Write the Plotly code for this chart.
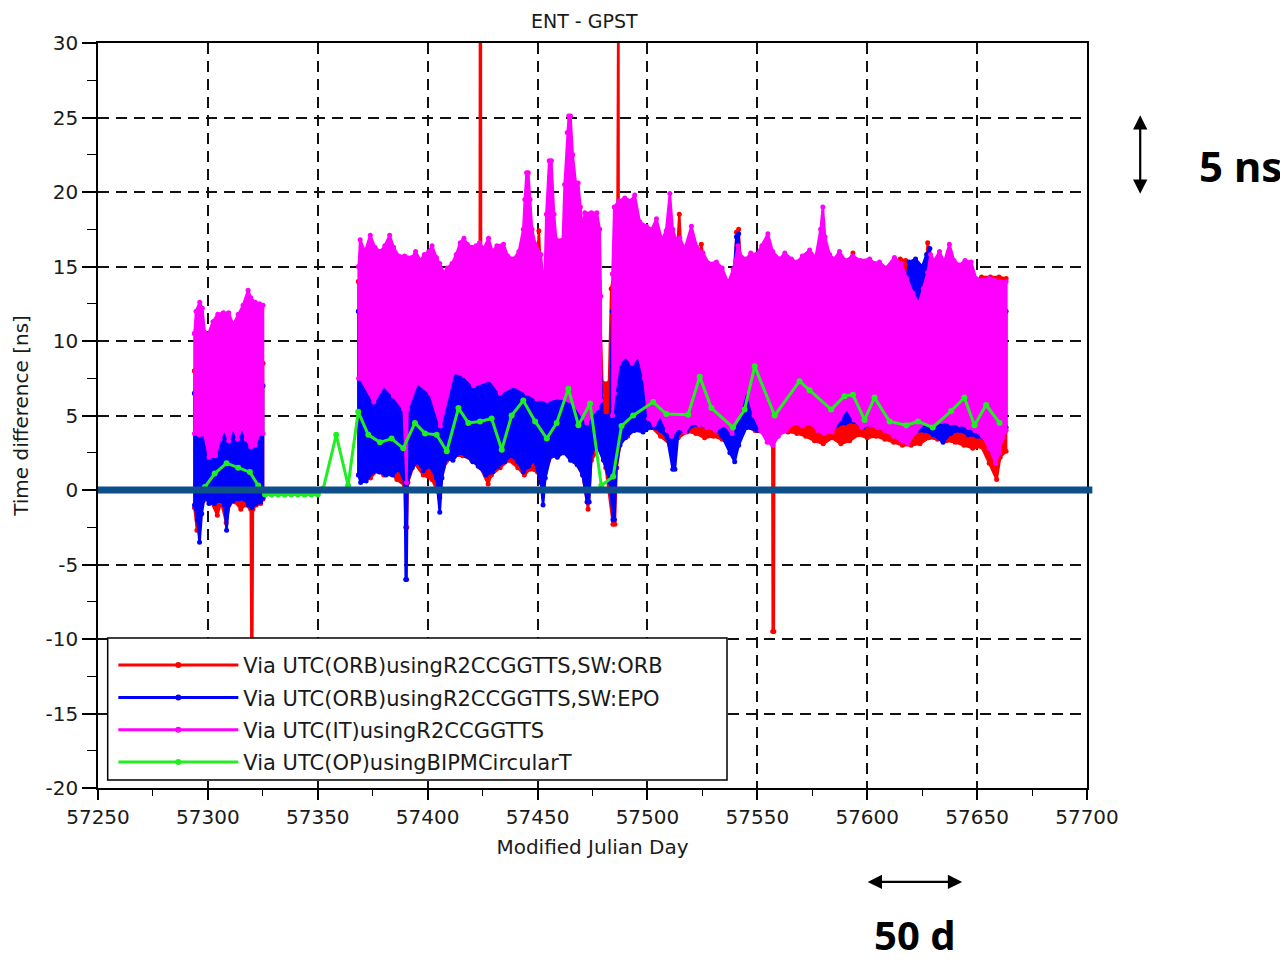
import plotly.graph_objects as go

# ---------------- data ----------------
SERIES_NAMES = [
    "Via UTC(ORB)usingR2CCGGTTS,SW:ORB",
    "Via UTC(ORB)usingR2CCGGTTS,SW:EPO",
    "Via UTC(IT)usingR2CCGGTTS",
    "Via UTC(OP)usingBIPMCircularT",
]
COLORS = ["#ff0000", "#0000ff", "#ff00ff", "#20ee20"]

# envelopes [MJD, ns] of the dense clouds: upper and lower edges per data segment
RED_A_UP = [[57293.9, 8.0], [57310.0, 8.5], [57325.1, 8.5]]
RED_A_LO = [[57293.9, -1.2], [57295.0, -2.7], [57296.5, -1.5], [57298.0, -0.7], [57301.0, -0.6],
            [57304.3, -1.7], [57306.0, -0.8], [57308.3, -2.2], [57310.0, -0.9], [57312.5, -0.8],
            [57315.0, -1.3], [57317.0, -1.0], [57319.5, -1.3], [57319.8, -11.0], [57320.2, -11.0],
            [57320.5, -1.3], [57322.0, -1.0], [57324.0, -0.9], [57325.1, -0.6]]
RED_B_UP = [[57368.5, 14.0], [57423.7, 14.0], [57423.8, 35.0], [57424.2, 35.0], [57424.3, 14.0],
            [57440.0, 14.0], [57450.0, 15.0], [57450.6, 17.4], [57451.3, 15.0], [57452.0, 13.5],
            [57478.0, 14.0], [57479.5, 7.2], [57482.5, 7.2], [57483.5, 13.5], [57486.3, 16.0],
            [57486.4, 35.0], [57486.8, 35.0], [57486.9, 16.0], [57513.5, 16.0], [57514.5, 18.5],
            [57515.5, 15.5], [57518.0, 15.0], [57523.5, 15.0], [57524.5, 16.5], [57526.0, 15.0],
            [57530.0, 14.5], [57534.0, 14.0], [57537.0, 13.2], [57539.5, 14.0], [57540.5, 17.3],
            [57541.5, 17.5], [57542.5, 15.0], [57550.0, 15.0], [57560.0, 15.0], [57570.0, 15.0],
            [57580.0, 15.0], [57590.0, 15.0], [57593.5, 15.9], [57595.0, 15.0], [57605.0, 14.8],
            [57612.0, 15.0], [57615.0, 15.5], [57617.5, 15.4], [57620.0, 13.0], [57626.0, 13.0],
            [57627.5, 16.6], [57629.0, 15.5], [57635.0, 15.0], [57640.0, 15.0], [57645.0, 14.9],
            [57649.0, 14.0], [57652.0, 14.3], [57656.0, 14.3], [57660.0, 14.3], [57663.2, 14.2]]
RED_B_LO = [[57368.5, 1.0], [57371.0, 1.2], [57374.0, 0.8], [57377.0, 1.3], [57380.0, 1.0],
            [57383.0, 1.2], [57386.0, 0.7], [57389.5, 0.3], [57390.0, -2.5], [57390.5, -2.5],
            [57391.0, 0.5], [57394.0, 1.8], [57398.0, 1.0], [57402.0, 0.7], [57405.5, -0.5],
            [57407.0, 1.5], [57411.0, 2.3], [57416.0, 2.3], [57420.0, 2.0], [57424.0, 1.5],
            [57427.5, 0.4], [57429.0, 1.0], [57433.0, 1.5], [57437.0, 2.0], [57441.0, 1.5],
            [57444.0, 1.0], [57446.5, 1.4], [57450.0, 1.2], [57452.5, 0.0], [57455.0, 2.0],
            [57459.0, 2.5], [57463.0, 2.8], [57467.0, 1.9], [57470.5, 1.0], [57473.0, -1.3],
            [57474.5, 2.0], [57478.0, 2.8], [57481.0, 1.5], [57484.3, -2.3], [57485.2, -2.3],
            [57486.0, 1.5], [57488.0, 3.4], [57491.0, 3.6], [57494.0, 4.2], [57498.0, 4.0],
            [57502.0, 4.2], [57506.0, 3.6], [57510.0, 3.1], [57514.0, 3.5], [57518.0, 3.9],
            [57522.0, 3.8], [57526.0, 3.5], [57530.0, 3.6], [57534.0, 3.4], [57538.0, 2.9],
            [57541.0, 3.4], [57545.0, 4.2], [57549.0, 4.0], [57553.0, 3.8], [57556.8, 3.8],
            [57557.0, -9.5], [57557.5, -9.5], [57557.7, 3.5], [57560.0, 3.8], [57564.0, 3.9],
            [57568.0, 3.8], [57572.0, 3.6], [57576.0, 3.3], [57580.0, 3.1], [57584.0, 3.5],
            [57588.0, 3.1], [57592.0, 3.3], [57596.0, 3.7], [57600.0, 3.5], [57604.0, 3.6],
            [57608.0, 3.4], [57612.0, 3.2], [57616.0, 3.0], [57620.0, 3.0], [57624.0, 3.1],
            [57628.0, 3.5], [57632.0, 3.4], [57636.0, 3.3], [57640.0, 3.2], [57644.0, 3.0],
            [57648.0, 2.8], [57652.0, 2.9], [57655.5, 1.8], [57658.9, 0.7], [57660.5, 2.2],
            [57663.2, 2.6]]

BLUE_A_UP = [[57293.9, 6.5], [57297.0, 7.5], [57300.0, 6.0], [57305.0, 7.0], [57310.0, 7.0],
             [57315.0, 7.0], [57320.0, 7.0], [57325.1, 7.0]]
BLUE_A_LO = [[57293.9, -1.0], [57295.2, -2.0], [57296.2, -3.5], [57297.2, -1.6], [57298.5, -0.4],
             [57300.5, -0.9], [57303.0, -0.9], [57305.5, -0.7], [57307.5, -1.0], [57308.5, -2.7],
             [57309.5, -1.0], [57311.5, -0.7], [57314.0, -0.6], [57316.5, -0.6], [57318.5, -1.0],
             [57320.0, -1.2], [57322.0, -0.9], [57324.0, -0.8], [57325.1, -0.5]]
BLUE_B_UP = [[57368.5, 12.0], [57400.0, 12.0], [57440.0, 12.0], [57452.5, 12.0], [57454.8, 16.0],
             [57455.5, 21.0], [57456.3, 16.0], [57458.0, 12.0], [57478.0, 12.0], [57479.5, 5.0],
             [57483.0, 5.0], [57484.0, 12.0], [57486.0, 10.5], [57490.0, 11.0], [57495.0, 10.0],
             [57500.0, 12.0], [57538.0, 12.0], [57540.5, 17.0], [57541.5, 17.2], [57542.5, 12.0],
             [57616.0, 12.0], [57619.0, 15.3], [57622.0, 15.5], [57625.0, 15.0], [57627.0, 15.8],
             [57628.5, 16.2], [57630.0, 12.0], [57663.2, 12.0]]
BLUE_B_LO = [[57368.5, 1.0], [57369.5, 0.5], [57372.0, 0.6], [57375.0, 1.2], [57378.0, 1.2],
             [57381.0, 1.0], [57384.0, 1.0], [57387.0, 1.4], [57389.6, 0.5], [57390.0, -6.0],
             [57390.4, -6.0], [57390.8, 0.5], [57393.0, 1.5], [57395.5, 1.9], [57398.0, 1.3],
             [57401.0, 1.6], [57404.0, 0.8], [57405.5, -1.5], [57406.5, 0.8], [57408.5, 2.1],
             [57411.5, 2.0], [57414.5, 2.5], [57417.5, 2.3], [57420.5, 1.9], [57423.0, 1.6],
             [57426.5, 1.0], [57429.5, 1.2], [57432.0, 1.6], [57435.0, 1.9], [57438.0, 2.3],
             [57441.0, 1.9], [57443.5, 1.2], [57446.0, 1.6], [57448.5, 2.0], [57451.5, 0.5],
             [57452.5, -1.0], [57453.5, 0.8], [57456.0, 2.3], [57459.0, 2.2], [57462.0, 2.5],
             [57465.0, 2.0], [57468.0, 1.7], [57470.5, 1.0], [57472.5, -0.8], [57473.5, -0.8],
             [57474.5, 2.5], [57477.0, 3.0], [57480.0, 2.0], [57483.0, 0.5], [57484.3, -2.0],
             [57485.0, -2.0], [57485.8, 1.5], [57487.5, 3.0], [57490.0, 3.5], [57494.0, 4.0],
             [57498.0, 3.9], [57502.0, 4.2], [57506.0, 4.0], [57509.0, 3.5], [57511.5, 1.4],
             [57512.5, 1.4], [57514.0, 3.8], [57518.0, 4.0], [57522.0, 4.4], [57526.0, 4.3],
             [57530.0, 4.2], [57534.0, 3.6], [57537.5, 2.5], [57539.7, 1.9], [57541.5, 3.0],
             [57545.0, 4.2], [57550.0, 4.0], [57554.0, 4.2], [57558.0, 4.0], [57562.0, 4.2],
             [57566.0, 4.8], [57570.0, 5.0], [57574.0, 4.5], [57578.0, 4.4], [57582.0, 4.4],
             [57586.0, 4.3], [57590.0, 4.5], [57594.0, 4.6], [57598.0, 4.2], [57602.0, 4.4],
             [57606.0, 4.4], [57610.0, 4.3], [57614.0, 4.0], [57618.0, 3.8], [57622.0, 3.9],
             [57626.0, 4.0], [57630.0, 3.7], [57634.5, 3.2], [57638.0, 3.8], [57642.0, 4.0],
             [57646.0, 3.7], [57650.0, 3.6], [57654.0, 3.4], [57656.5, 2.6], [57658.5, 2.8],
             [57661.0, 3.5], [57663.2, 4.2]]

MAG_A_UP = [[57293.9, 10.5], [57294.6, 12.0], [57296.3, 12.6], [57297.5, 12.2], [57298.5, 10.6],
            [57300.0, 10.4], [57302.3, 11.3], [57304.5, 11.8], [57307.0, 11.9], [57309.5, 11.9],
            [57311.5, 11.1], [57313.8, 11.8], [57316.0, 12.4], [57318.3, 13.4], [57319.5, 12.9],
            [57321.5, 12.6], [57323.5, 12.5], [57325.1, 12.4]]
MAG_A_LO = [[57293.9, 3.8], [57296.0, 3.7], [57298.5, 3.7], [57300.5, 2.2], [57303.5, 2.3],
            [57305.5, 3.4], [57307.5, 4.1], [57309.5, 3.3], [57311.5, 4.3], [57313.5, 3.4],
            [57315.5, 4.3], [57317.5, 3.4], [57319.5, 2.9], [57321.5, 3.0], [57323.5, 3.8],
            [57325.1, 3.8]]
MAG_B_UP = [[57368.6, 15.0], [57369.3, 16.8], [57371.5, 16.0], [57373.9, 17.1], [57376.0, 16.3],
            [57378.5, 16.0], [57380.5, 16.4], [57382.7, 17.1], [57384.5, 16.3], [57386.8, 15.7],
            [57389.5, 15.7], [57392.9, 15.6], [57394.5, 16.0], [57396.7, 15.4], [57398.5, 15.8],
            [57400.5, 16.0], [57402.0, 16.4], [57404.0, 15.6], [57405.5, 15.2], [57407.3, 14.6],
            [57409.0, 14.9], [57411.1, 15.2], [57413.0, 15.8], [57414.8, 16.6], [57416.5, 16.9],
            [57418.0, 16.5], [57420.0, 16.3], [57422.0, 16.4], [57423.6, 16.6], [57425.5, 16.2],
            [57427.7, 16.9], [57429.5, 16.0], [57431.5, 16.4], [57434.5, 16.5], [57436.5, 15.7],
            [57439.1, 15.5], [57441.5, 16.0], [57443.5, 17.5], [57444.2, 19.5], [57445.0, 21.3],
            [57445.8, 21.3], [57446.6, 19.5], [57447.5, 17.5], [57449.0, 16.5], [57451.5, 15.8],
            [57452.3, 14.5], [57453.3, 14.5], [57454.0, 18.5], [57455.3, 22.1], [57456.3, 22.1],
            [57457.5, 18.5], [57458.5, 16.8], [57461.5, 16.8], [57462.3, 20.5], [57463.5, 24.0],
            [57464.2, 25.1], [57465.0, 25.1], [57466.0, 22.5], [57467.4, 20.6], [57468.5, 20.6],
            [57469.5, 19.0], [57470.5, 17.5], [57471.5, 18.6], [57474.5, 18.6], [57477.0, 18.6],
            [57478.3, 17.5], [57478.8, 13.0]]
MAG_B_LO = [[57368.6, 7.5], [57369.4, 7.5], [57375.5, 5.9], [57380.0, 7.0], [57384.5, 6.3],
            [57389.1, 5.4], [57390.4, 0.5], [57390.8, 5.4], [57395.2, 7.2], [57401.2, 6.5],
            [57405.8, 4.3], [57411.8, 7.9], [57416.4, 7.7], [57420.9, 7.0], [57428.5, 7.4],
            [57433.0, 6.5], [57439.1, 7.0], [57445.2, 6.5], [57449.7, 6.1], [57454.2, 6.0],
            [57460.3, 6.2], [57466.4, 5.8], [57472.4, 4.5], [57477.0, 5.5], [57478.8, 6.0]]
MAG_C_UP = [[57484.1, 14.5], [57484.9, 19.0], [57487.0, 19.4], [57489.7, 19.6], [57492.5, 19.4],
            [57494.2, 19.8], [57496.5, 18.0], [57499.5, 17.7], [57502.0, 17.5], [57504.1, 18.2],
            [57506.5, 16.8], [57508.5, 17.4], [57510.2, 19.9], [57511.5, 17.5], [57513.0, 16.8],
            [57514.7, 16.9], [57517.0, 16.2], [57520.0, 17.7], [57522.5, 16.3], [57525.3, 15.9],
            [57528.0, 15.2], [57531.4, 15.3], [57534.0, 14.9], [57536.7, 13.9], [57539.0, 14.8],
            [57541.2, 16.4], [57543.0, 15.6], [57545.0, 15.5], [57547.0, 15.9], [57549.5, 15.8],
            [57552.0, 16.4], [57554.8, 17.2], [57557.0, 16.0], [57560.2, 15.5], [57562.5, 15.9],
            [57565.5, 15.5], [57568.0, 15.3], [57570.5, 15.7], [57573.8, 16.1], [57576.5, 15.6],
            [57578.8, 17.5], [57579.8, 19.0], [57580.8, 17.0], [57582.9, 15.8], [57585.0, 15.5],
            [57587.4, 16.0], [57590.0, 15.4], [57593.5, 15.7], [57597.0, 15.4], [57601.1, 15.5],
            [57603.5, 15.2], [57605.6, 15.3], [57608.5, 14.9], [57612.4, 15.6], [57615.5, 15.2],
            [57618.0, 14.2], [57620.8, 13.2], [57623.5, 12.5], [57625.5, 13.5], [57627.5, 14.6],
            [57628.8, 15.8], [57630.5, 15.4], [57632.9, 16.0], [57635.0, 15.3], [57637.4, 16.5],
            [57639.5, 15.4], [57642.0, 15.1], [57644.5, 15.4], [57647.3, 15.3], [57649.5, 14.2],
            [57652.6, 14.1], [57655.5, 14.2], [57657.9, 14.1], [57660.5, 14.0], [57663.2, 14.0]]
MAG_C_LO = [[57484.1, 5.0], [57485.0, 6.5], [57487.0, 8.5], [57490.0, 9.0], [57493.0, 8.5],
            [57496.0, 9.0], [57498.5, 7.5], [57500.5, 4.8], [57503.0, 4.4], [57506.0, 5.0],
            [57509.0, 4.0], [57511.0, 3.6], [57514.0, 4.2], [57517.0, 3.9], [57520.0, 4.5],
            [57523.5, 4.4], [57527.0, 4.2], [57531.0, 4.0], [57535.0, 4.4], [57538.5, 3.8],
            [57541.5, 5.0], [57545.0, 6.8], [57548.5, 5.0], [57551.5, 4.0], [57554.5, 3.2],
            [57557.0, 3.0], [57559.5, 3.6], [57563.0, 4.0], [57567.0, 4.5], [57570.5, 4.3],
            [57574.0, 4.5], [57577.5, 4.0], [57580.5, 3.8], [57584.0, 3.9], [57587.5, 4.8],
            [57590.5, 5.5], [57594.0, 4.7], [57597.5, 4.2], [57601.0, 4.4], [57604.5, 4.2],
            [57608.0, 4.0], [57612.0, 3.6], [57615.5, 3.3], [57618.5, 3.1], [57622.0, 3.9],
            [57626.0, 4.5], [57630.0, 4.3], [57634.0, 4.6], [57638.0, 4.5], [57642.0, 4.4],
            [57646.0, 4.2], [57649.0, 4.0], [57652.5, 3.6], [57655.5, 2.8], [57658.5, 1.8],
            [57660.0, 2.5], [57661.5, 3.5], [57663.2, 4.0]]

GREEN_MJD = [57298.6, 57303.1, 57308.5, 57313.8, 57319.1, 57322.9, 57326.0, 57329.0, 57332.0,
             57335.0, 57338.0, 57341.0, 57344.0, 57347.0, 57350.0, 57352.5, 57358.4, 57363.8,
             57368.4, 57373.0, 57378.3, 57383.6, 57388.9, 57394.2, 57398.8, 57404.1, 57408.7,
             57414.0, 57418.5, 57423.8, 57429.1, 57433.7, 57438.2, 57443.5, 57448.9, 57454.2,
             57458.7, 57464.0, 57468.6, 57473.9, 57479.0, 57484.4, 57488.2, 57493.5, 57502.6,
             57508.6, 57518.5, 57523.8, 57529.1, 57538.9, 57544.2, 57548.8, 57557.9, 57569.2,
             57573.8, 57583.6, 57589.7, 57593.5, 57598.8, 57603.3, 57610.2, 57617.8, 57623.1,
             57629.8, 57638.2, 57644.2, 57648.8, 57654.1, 57660.2]
GREEN_NS = [0.2, 1.1, 1.8, 1.5, 1.2, 0.3, -0.3, -0.3, -0.3,
            -0.3, -0.3, -0.3, -0.3, -0.3, -0.3, 0.1, 3.7, 0.3,
            5.25, 3.7, 3.2, 3.45, 2.8, 4.5, 3.8, 3.7, 2.6,
            5.5, 4.5, 4.6, 4.8, 2.7, 5.0, 6.0, 4.6, 3.45,
            4.5, 6.8, 4.35, 5.8, 0.3, 0.9, 4.3, 5.0, 5.9,
            5.1, 5.05, 7.6, 5.5, 4.2, 5.4, 8.3, 5.0, 7.3,
            6.7, 5.4, 6.3, 6.4, 4.7, 6.2, 4.6, 4.35, 4.6,
            4.2, 5.3, 6.2, 4.35, 5.7, 4.5]

X_TICKS = list(range(57250, 57701, 50))
Y_TICKS = list(range(-20, 31, 5))
REF_LEVEL = 0.0

FONT = "DejaVu Sans"
TXT = "#1a1a1a"


def polygon(segments):
    xs, ys = [], []
    for up, lo in segments:
        pts = up + lo[::-1] + [up[0]]
        xs += [p[0] for p in pts] + [None]
        ys += [p[1] for p in pts] + [None]
    return xs, ys


fig = go.Figure()

clouds = [
    ([(RED_A_UP, RED_A_LO), (RED_B_UP, RED_B_LO)], COLORS[0]),
    ([(BLUE_A_UP, BLUE_A_LO), (BLUE_B_UP, BLUE_B_LO)], COLORS[1]),
    ([(MAG_A_UP, MAG_A_LO), (MAG_B_UP, MAG_B_LO), (MAG_C_UP, MAG_C_LO)], COLORS[2]),
]
for segs, col in clouds:
    xs, ys = polygon(segs)
    fig.add_trace(go.Scatter(
        x=xs, y=ys, mode="lines+markers", fill="toself", fillcolor=col,
        line=dict(color=col, width=2.5), marker=dict(color=col, size=5),
        showlegend=False, hoverinfo="skip"))

fig.add_trace(go.Scatter(
    x=GREEN_MJD, y=GREEN_NS, mode="lines+markers",
    line=dict(color=COLORS[3], width=3), marker=dict(color=COLORS[3], size=6),
    showlegend=False, hoverinfo="skip"))

# legend entries
for i, (name, col) in enumerate(zip(SERIES_NAMES, COLORS)):
    fig.add_trace(go.Scatter(
        x=[None], y=[None], mode="lines+markers", name=name, legendgroup=str(i),
        line=dict(color=col, width=3), marker=dict(color=col, size=6)))

axis_common = dict(
    showline=True, linecolor="black", linewidth=1.6, mirror=True,
    showgrid=True, gridcolor="#111111", gridwidth=1.5, griddash="11px,7px",
    zeroline=False, ticks="outside", tickcolor="black", tickwidth=1.5,
    tickfont=dict(family=FONT, size=20, color=TXT),
)

fig.update_xaxes(
    range=[X_TICKS[0], X_TICKS[-1]], tickvals=X_TICKS, ticktext=[str(v) for v in X_TICKS],
    ticklen=10,
    minor=dict(dtick=25, tick0=X_TICKS[0], ticks="outside", ticklen=6, tickcolor="black",
               tickwidth=1.3, showgrid=False),
    title=dict(text="Modified Julian Day", font=dict(family=FONT, size=20, color=TXT), standoff=12),
    **axis_common)
fig.update_yaxes(
    range=[Y_TICKS[0], Y_TICKS[-1]], tickvals=Y_TICKS, ticktext=[str(v) for v in Y_TICKS],
    ticklen=14,
    minor=dict(dtick=2.5, tick0=Y_TICKS[0], ticks="outside", ticklen=9, tickcolor="black",
               tickwidth=1.3, showgrid=False),
    title=dict(text="Time difference [ns]", font=dict(family=FONT, size=20, color=TXT), standoff=12),
    **axis_common)

fig.add_shape(type="line", xref="paper", x0=0, x1=1.0054, yref="y", y0=REF_LEVEL, y1=REF_LEVEL,
              line=dict(color="#0d4f8b", width=7), layer="above")
fig.add_shape(type="rect", xref="paper", yref="paper", x0=0.0098, x1=0.636, y0=0.0107, y1=0.2013,
              fillcolor="white", line=dict(color="black", width=1.5), layer="above")

fig.add_annotation(text="ENT - GPST", xref="paper", yref="paper", x=0.4924, y=1.0295,
                   xanchor="center", yanchor="middle",
                   showarrow=False, font=dict(family=FONT, size=19, color=TXT))
fig.add_annotation(text="<b>5 ns</b>", xref="paper", yref="paper", x=1.155, y=0.836,
                   xanchor="center", yanchor="middle",
                   showarrow=False, font=dict(family="Noto Sans", size=42, color="black"))
fig.add_annotation(text="<b>50 d</b>", xref="paper", yref="paper", x=0.826, y=-0.1965,
                   xanchor="center", yanchor="middle",
                   showarrow=False, font=dict(family="Noto Sans", size=40, color="black"))
fig.add_annotation(text="", xref="paper", yref="paper", x=1.0538, y=0.903, ax=0, ay=80,
                   showarrow=True, arrowside="end+start", arrowhead=2, startarrowhead=2,
                   arrowsize=1.3, startarrowsize=1.3, arrowwidth=2.2, arrowcolor="black",
                   standoff=0, startstandoff=0)
fig.add_annotation(text="", xref="paper", yref="paper", x=0.8738, y=-0.1261, ax=-96, ay=0,
                   showarrow=True, arrowside="end+start", arrowhead=2, startarrowhead=2,
                   arrowsize=1.3, startarrowsize=1.3, arrowwidth=2.2, arrowcolor="black",
                   standoff=0, startstandoff=0)

# the page body adds an 8 px margin, so the figure is 8 px smaller and margins compensate
fig.update_layout(
    width=1280, height=954,
    margin=dict(l=90.3, r=201.3, t=34.7, b=174),
    paper_bgcolor="white", plot_bgcolor="white",
    font=dict(family=FONT, size=20, color=TXT),
    showlegend=True,
    legend=dict(x=0.0155, y=0.192, xanchor="left", yanchor="top",
                bgcolor="rgba(0,0,0,0)", borderwidth=0, itemwidth=120,
                tracegroupgap=2, font=dict(family=FONT, size=21, color=TXT)),
)

fig.write_html("out.html", config={"displayModeBar": False})
